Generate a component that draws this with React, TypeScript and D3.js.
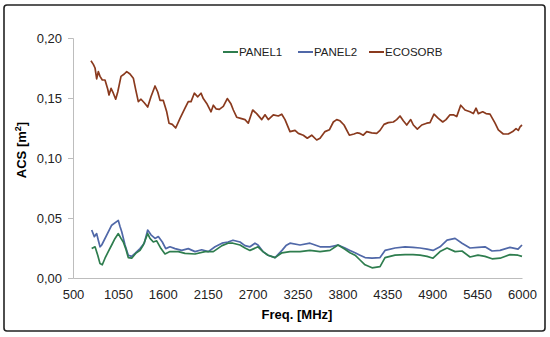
import { useEffect, useRef } from "react";
import * as d3 from "d3";

// frequencies (MHz) and ACS values
const ecoFreq = [720, 749, 770, 790, 810, 831, 859, 892, 925, 941, 966, 994, 1023, 1048, 1088, 1128, 1158, 1198, 1239, 1268, 1300, 1333, 1373, 1415, 1455, 1505, 1538, 1566, 1606, 1648, 1676, 1716, 1758, 1811, 1872, 1912, 1946, 1986, 2028, 2068, 2096, 2138, 2191, 2219, 2252, 2292, 2341, 2390, 2432, 2464, 2505, 2554, 2607, 2647, 2701, 2750, 2812, 2852, 2892, 2954, 3015, 3057, 3097, 3158, 3220, 3260, 3321, 3370, 3424, 3485, 3526, 3587, 3640, 3689, 3730, 3771, 3820, 3885, 3942, 3983, 4016, 4056, 4098, 4159, 4220, 4261, 4310, 4362, 4424, 4465, 4506, 4546, 4588, 4637, 4669, 4718, 4772, 4833, 4873, 4922, 4975, 5029, 5069, 5118, 5159, 5200, 5249, 5302, 5363, 5404, 5437, 5465, 5519, 5559, 5608, 5670, 5710, 5771, 5832, 5886, 5927, 5955, 5976, 6000];
const ecoVals = [0.181, 0.178, 0.175, 0.166, 0.172, 0.168, 0.165, 0.165, 0.1575, 0.1525, 0.158, 0.154, 0.149, 0.155, 0.168, 0.17, 0.172, 0.17, 0.1665, 0.157, 0.147, 0.149, 0.146, 0.1425, 0.151, 0.16, 0.155, 0.148, 0.148, 0.1385, 0.129, 0.128, 0.125, 0.133, 0.1415, 0.147, 0.147, 0.154, 0.151, 0.154, 0.1495, 0.1455, 0.1385, 0.144, 0.141, 0.1405, 0.143, 0.1495, 0.1455, 0.14, 0.134, 0.133, 0.132, 0.129, 0.14, 0.137, 0.132, 0.136, 0.132, 0.136, 0.135, 0.1365, 0.132, 0.122, 0.123, 0.1205, 0.119, 0.1165, 0.119, 0.115, 0.1165, 0.122, 0.1235, 0.13, 0.132, 0.131, 0.1275, 0.119, 0.12, 0.121, 0.1205, 0.119, 0.122, 0.121, 0.1205, 0.123, 0.128, 0.1295, 0.13, 0.132, 0.135, 0.131, 0.1275, 0.132, 0.1275, 0.124, 0.1275, 0.129, 0.1295, 0.1365, 0.133, 0.13, 0.132, 0.136, 0.136, 0.1345, 0.144, 0.14, 0.1385, 0.137, 0.1415, 0.137, 0.1385, 0.137, 0.1365, 0.129, 0.1235, 0.12, 0.12, 0.122, 0.1245, 0.123, 0.126, 0.1275];

const panel2Freq = [729, 761, 790, 810, 831, 852, 974, 1055, 1076, 1097, 1137, 1177, 1219, 1260, 1321, 1373, 1415, 1455, 1505, 1545, 1594, 1636, 1688, 1750, 1832, 1912, 1995, 2077, 2157, 2240, 2325, 2399, 2460, 2546, 2607, 2668, 2729, 2766, 2827, 2889, 2975, 3060, 3109, 3158, 3281, 3403, 3526, 3648, 3746, 3832, 3893, 3955, 4016, 4077, 4163, 4261, 4322, 4445, 4567, 4665, 4751, 4837, 4910, 4996, 5082, 5180, 5265, 5363, 5461, 5547, 5633, 5731, 5853, 5951, 6000];
const panel2Vals = [0.04, 0.0345, 0.037, 0.0315, 0.026, 0.0275, 0.044, 0.048, 0.043, 0.0385, 0.0275, 0.019, 0.018, 0.0205, 0.0245, 0.029, 0.04, 0.036, 0.033, 0.0345, 0.03, 0.0245, 0.026, 0.0245, 0.023, 0.0245, 0.022, 0.0235, 0.022, 0.026, 0.029, 0.03, 0.0315, 0.03, 0.027, 0.026, 0.029, 0.0275, 0.022, 0.019, 0.017, 0.023, 0.027, 0.029, 0.0275, 0.029, 0.026, 0.026, 0.0275, 0.025, 0.023, 0.021, 0.019, 0.017, 0.0165, 0.017, 0.023, 0.025, 0.026, 0.0255, 0.025, 0.024, 0.023, 0.026, 0.0315, 0.033, 0.029, 0.025, 0.0255, 0.026, 0.0225, 0.023, 0.0255, 0.024, 0.0275];

const panel1Freq = [729, 770, 803, 831, 859, 892, 932, 974, 1015, 1055, 1088, 1116, 1146, 1177, 1219, 1268, 1321, 1361, 1415, 1443, 1484, 1525, 1578, 1627, 1688, 1790, 1872, 1995, 2117, 2219, 2325, 2399, 2460, 2546, 2607, 2668, 2766, 2827, 2889, 2975, 3060, 3158, 3281, 3403, 3526, 3648, 3746, 3832, 3893, 3955, 4016, 4077, 4163, 4261, 4322, 4445, 4567, 4665, 4751, 4837, 4910, 4996, 5082, 5180, 5265, 5363, 5461, 5547, 5633, 5731, 5853, 5951, 6000];
const panel1Vals = [0.0245, 0.026, 0.019, 0.012, 0.011, 0.0165, 0.022, 0.0275, 0.033, 0.037, 0.033, 0.03, 0.0245, 0.017, 0.0165, 0.0205, 0.023, 0.0275, 0.037, 0.033, 0.03, 0.031, 0.0245, 0.02, 0.022, 0.022, 0.0205, 0.02, 0.022, 0.022, 0.027, 0.029, 0.029, 0.0275, 0.025, 0.023, 0.026, 0.022, 0.019, 0.017, 0.021, 0.022, 0.022, 0.023, 0.022, 0.023, 0.0275, 0.024, 0.021, 0.019, 0.015, 0.011, 0.0085, 0.0095, 0.017, 0.019, 0.0195, 0.0195, 0.019, 0.018, 0.0165, 0.022, 0.025, 0.022, 0.0225, 0.0175, 0.019, 0.018, 0.016, 0.0165, 0.0195, 0.019, 0.018];

const xTicks = [500, 1050, 1600, 2150, 2700, 3250, 3800, 4350, 4900, 5450, 6000];
const yTicks = [0, 0.05, 0.1, 0.15, 0.2];

const seriesNames = ["PANEL1", "PANEL2", "ECOSORB"];
const seriesColors = ["#2e7d4e", "#5068a8", "#8a3a1e"];

const App = () => {
    const ref = useRef<SVGSVGElement>(null);

    useEffect(() => {
        const svg = d3.select(ref.current);
        svg.selectAll("*").remove();

        const width = 550, height = 337;
        const margin = {top: 38, right: 28, bottom: 59, left: 73};

        // chart border
        svg.append("rect")
            .attr("x", 4).attr("y", 5)
            .attr("width", 541).attr("height", 326)
            .attr("rx", 3)
            .attr("fill", "white")
            .attr("stroke", "#222")
            .attr("stroke-width", 1.6);

        const x = d3.scaleLinear().domain([500, 6000]).range([margin.left, width - margin.right]);
        const y = d3.scaleLinear().domain([0, 0.2]).range([height - margin.bottom, margin.top]);

        const tickFont = "'Liberation Sans', Arial, sans-serif";

        // y axis
        const yAxis = svg.append("g")
            .attr("transform", `translate(${margin.left},0)`)
            .call(d3.axisLeft(y).tickValues(yTicks).tickSize(5).tickPadding(6)
                .tickFormat(d => d3.format(".2f")(d as number).replace(".", ",")));
        yAxis.select(".domain").attr("stroke", "#bdbdbd");
        yAxis.selectAll(".tick line").attr("stroke", "#bdbdbd");
        yAxis.selectAll("text").attr("font-family", tickFont).attr("font-size", 13).attr("fill", "#222");

        // x axis
        const xAxis = svg.append("g")
            .attr("transform", `translate(0,${height - margin.bottom})`)
            .call(d3.axisBottom(x).tickValues(xTicks).tickSize(0).tickPadding(12).tickFormat(d3.format("d")));
        xAxis.select(".domain").attr("stroke", "#bdbdbd");
        xAxis.selectAll("text").attr("font-family", tickFont).attr("font-size", 13).attr("fill", "#222");

        // axis titles
        svg.append("text")
            .attr("x", 297).attr("y", 319)
            .attr("text-anchor", "middle")
            .attr("font-family", tickFont).attr("font-weight", "bold").attr("font-size", 13)
            .text("Freq. [MHz]");
        const yt = svg.append("text")
            .attr("transform", "translate(26,150) rotate(-90)")
            .attr("text-anchor", "middle")
            .attr("font-family", tickFont).attr("font-weight", "bold").attr("font-size", 13);
        yt.append("tspan").text("ACS [m");
        yt.append("tspan").attr("font-size", 9).attr("dy", -5).text("2");
        yt.append("tspan").attr("dy", 5).text("]");

        const line = d3.line<[number, number]>()
            .x(d => x(d[0]))
            .y(d => y(d[1]));

        const data: [number, number][][] = [
            d3.zip(panel1Freq, panel1Vals) as [number, number][],
            d3.zip(panel2Freq, panel2Vals) as [number, number][],
            d3.zip(ecoFreq, ecoVals) as [number, number][],
        ];

        // PANEL2 under PANEL1 like the picture
        [1, 0, 2].forEach(i => {
            svg.append("path")
                .datum(data[i])
                .attr("fill", "none")
                .attr("stroke", seriesColors[i])
                .attr("stroke-width", 1.7)
                .attr("stroke-linejoin", "round")
                .attr("d", line);
        });

        // legend
        const legendX = [223, 298, 369];
        seriesNames.forEach((name, i) => {
            const g = svg.append("g").attr("transform", `translate(${legendX[i]},52)`);
            g.append("line").attr("x1", 0).attr("x2", 15).attr("y1", 0).attr("y2", 0)
                .attr("stroke", seriesColors[i]).attr("stroke-width", 2);
            g.append("text").attr("x", 16).attr("y", 4)
                .attr("font-family", "'Liberation Sans', Arial, sans-serif").attr("font-size", 11.5)
                .attr("fill", "#222")
                .text(name);
        });
    }, []);

    return (
        <svg ref={ref} width={550} height={337}
             style={{position: "absolute", left: 0, top: 0, background: "white"}} />
    );
};

export default App;
